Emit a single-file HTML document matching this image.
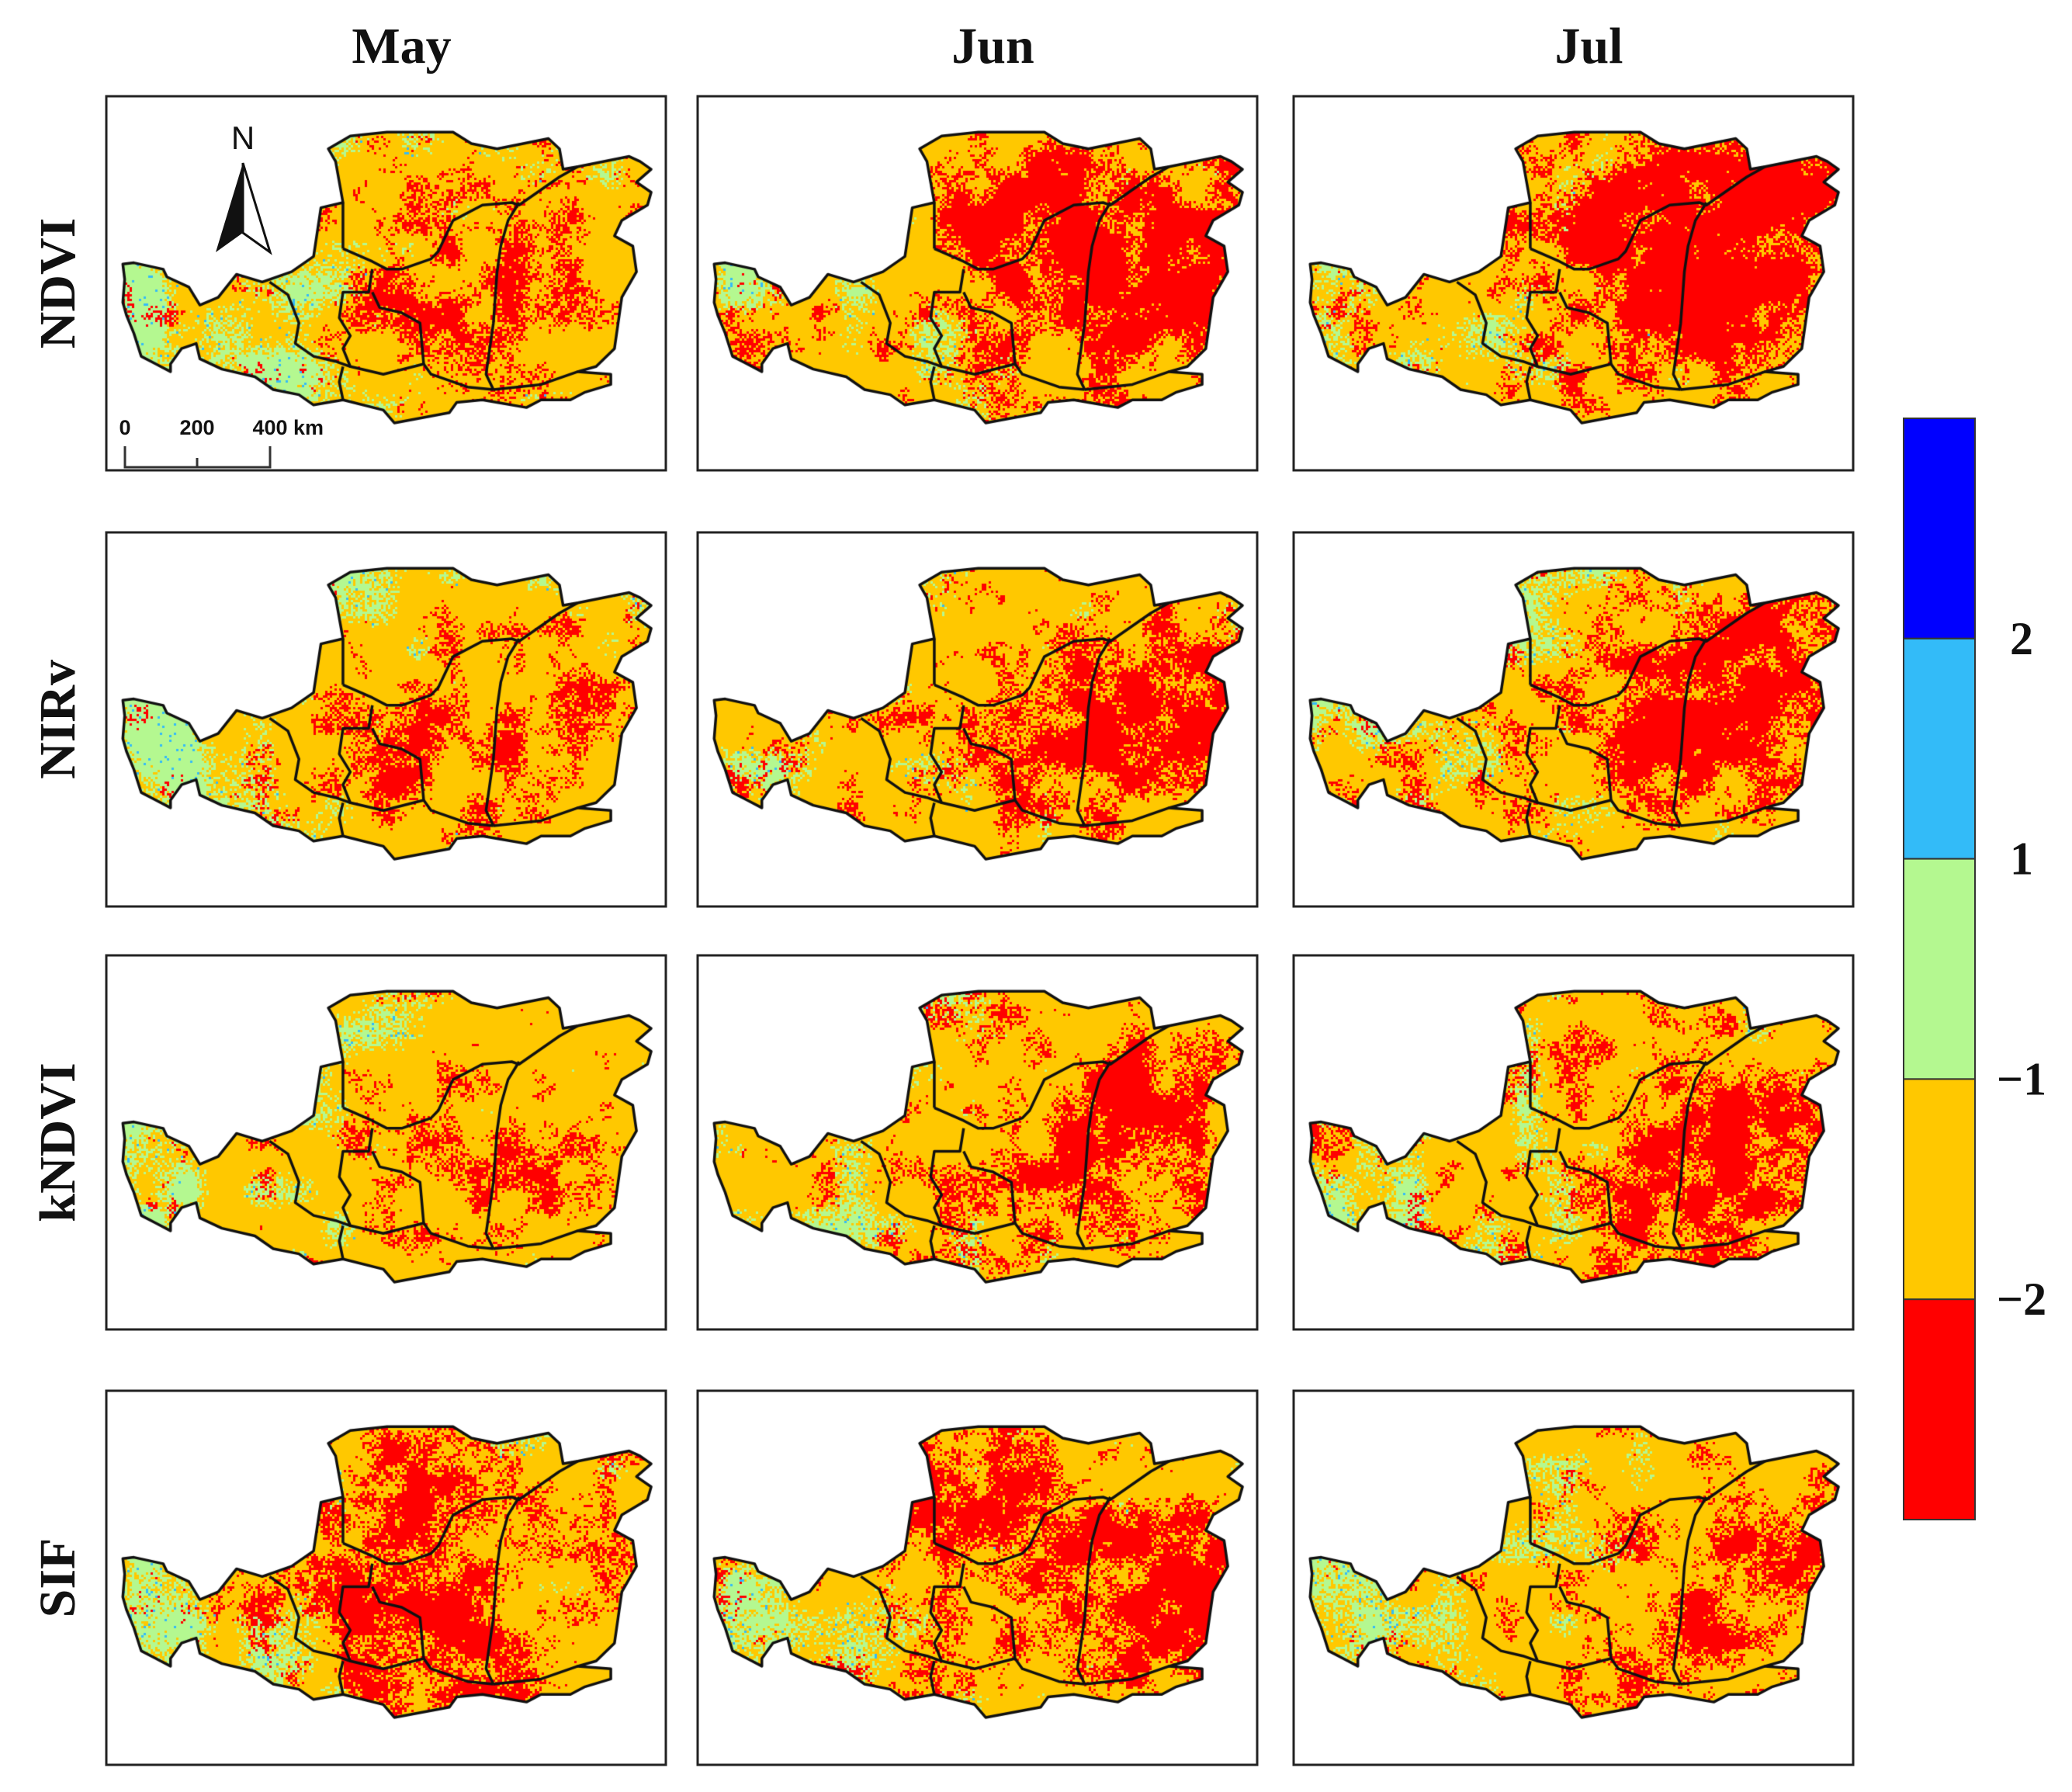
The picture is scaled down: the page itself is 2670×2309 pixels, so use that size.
<!DOCTYPE html>
<html><head><meta charset="utf-8"><style>
html,body{margin:0;padding:0;background:#fff;width:2670px;height:2309px;overflow:hidden;position:relative}
.t{position:absolute;font-family:"Liberation Serif",serif;font-weight:bold;color:#111}
canvas{position:absolute}
</style></head><body>
<div id="root"></div>
<svg id="ov" width="2670" height="2309" style="position:absolute;left:0;top:0"></svg>
<script>
// data
const months = ["May","Jun","Jul"];
const indices = ["NDVI","NIRv","kNDVI","SIF"];
// red-dominance (drought severity) per panel [row][col]
const redLevel = [[0.40,0.66,0.72],[0.38,0.60,0.64],[0.30,0.55,0.56],[0.60,0.62,0.52]];
// green (normal) share per panel
const greenLevel = [[0.60,0.35,0.38],[0.55,0.32,0.35],[0.58,0.30,0.35],[0.50,0.32,0.32]];
// drought hotspot centres per panel (fractions of panel width/height)
const hotspots = [
 [[[0.55,0.55],[0.78,0.5]],[[0.72,0.5],[0.85,0.45],[0.6,0.35]],[[0.72,0.5],[0.85,0.35],[0.65,0.3]]],
 [[[0.55,0.6],[0.8,0.5]],[[0.7,0.55],[0.85,0.45]],[[0.7,0.5],[0.85,0.35]]],
 [[[0.55,0.6],[0.8,0.55]],[[0.7,0.55],[0.85,0.4]],[[0.8,0.45],[0.7,0.65]]],
 [[[0.55,0.3],[0.45,0.5],[0.62,0.75]],[[0.5,0.3],[0.75,0.55],[0.85,0.5]],[[0.82,0.4],[0.7,0.7]]]
];
const cbLabels = ["2","1","\u22121","\u22122"];
const cbColors = ["#0000ff","#33bbf8","#b4f890","#ffc800","#ff0000"];

const colX=[137,899,1667], rowY=[124,686,1231,1792], PW=721, PH=482;
const outlineZ=[[60,670],[90,665],[170,690],[180,720],[240,760],[270,830],[320,800],[370,710],[440,740],[520,700],[580,640],[600,450],[660,430],[640,270],[620,220],[680,170],[780,155],[960,155],[1010,200],[1080,220],[1220,180],[1250,220],[1260,300],[1300,290],[1440,250],[1470,270],[1500,300],[1460,350],[1500,390],[1490,440],[1420,500],[1400,560],[1450,600],[1460,700],[1420,800],[1410,900],[1400,1000],[1350,1070],[1300,1090],[1390,1100],[1390,1140],[1320,1170],[1280,1200],[1200,1200],[1160,1230],[1080,1210],[1040,1200],[970,1210],[950,1250],[800,1290],[770,1240],[660,1200],[580,1220],[540,1180],[470,1160],[420,1110],[330,1080],[270,1040],[260,980],[220,1000],[190,1060],[190,1090],[150,1060],[110,1030],[90,940],[70,870],[60,820],[65,730]];
const bounds=[
[[660,610],[740,660],[780,690],[820,690],[900,650],[920,620],[960,500],[1040,440],[1120,430],[1140,440],[1250,330],[1300,290]],
[[1140,430],[1110,500],[1090,600],[1080,700],[1070,900],[1060,1000],[1050,1100],[1070,1160]],
[[1070,1160],[1200,1140],[1300,1090]],
[[740,690],[730,780],[660,780],[650,880],[680,950],[660,1000],[680,1070],[770,1100],[880,1060],[870,900],[820,860],[760,840],[740,780]],
[[460,740],[510,790],[540,900],[530,980],[580,1030],[640,1050],[680,1070]],
[[880,1060],[900,1100],[1000,1150],[1070,1160]],
[[660,610],[660,430]],[[660,1070],[650,1130],[660,1200]]];
const fx=z=>(z-15)/1525*PW, fy=z=>(z-15)/1460*PH;
const ov=document.getElementById('ov'), NS='http://www.w3.org/2000/svg';
function hash(i,j,k){let h=(i*374761393+j*668265263+k*1442695041)|0;h=Math.imul(h^(h>>>13),1274126177);return ((h^(h>>>16))>>>0)/4294967296;}
function vnoise(x,y,s,k){const gx=x/s,gy=y/s,i=Math.floor(gx),j=Math.floor(gy),a=gx-i,b=gy-j;
 const sa=a*a*(3-2*a),sb=b*b*(3-2*b);
 const v00=hash(i,j,k),v10=hash(i+1,j,k),v01=hash(i,j+1,k),v11=hash(i+1,j+1,k);
 return (v00*(1-sa)+v10*sa)*(1-sb)+(v01*(1-sa)+v11*sa)*sb;}
for(let r=0;r<4;r++)for(let c=0;c<3;c++){
 const x0=colX[c],y0=rowY[r];
 const cv=document.createElement('canvas');cv.width=PW;cv.height=PH;cv.style.left=x0+'px';cv.style.top=y0+'px';
 
 
 document.body.appendChild(cv);
 const g=cv.getContext('2d');
 g.beginPath();outlineZ.forEach((p,i)=>i?g.lineTo(fx(p[0]),fy(p[1])):g.moveTo(fx(p[0]),fy(p[1])));g.closePath();
 g.save();g.clip();
 const k=r*3+c+1, cs=3, rl=redLevel[r][c], gl=greenLevel[r][c], hs=hotspots[r][c];
 for(let i=0;i<PW/cs;i++)for(let j=0;j<PH/cs;j++){
  const x=i*cs,y=j*cs,u=x/PW,v=y/PH;
  const n=0.45*vnoise(x,y,40,k)+0.25*vnoise(x,y,14,k+50)+0.3*hash(i,j,k+99);
  let hot=0;hs.forEach(h=>{const dx=(u-h[0])/0.16,dy=(v-h[1])/0.2;hot+=Math.exp(-(dx*dx+dy*dy));});
  hot=Math.min(1,hot);
  const rs=n+rl*0.5*hot+rl*0.2;
  const west=Math.max(0,0.65-u)*1.5+Math.max(0,0.3-v)*0.8;
  const gsc=0.5*vnoise(x,y,50,k+200)+0.25*hash(j,i,k+7)+gl*west*0.6-hot*0.15;
  let col="#ffc800";
  if(rs>0.8)col="#ff0000";
  else if(gsc>0.62){col=(hash(j,i,k)<0.04?"#33bbf8":"#b4f890");}
  g.fillStyle=col;g.fillRect(x,y,cs,cs);
 }
 g.restore();
 g.lineWidth=3.5;g.strokeStyle="#111";g.lineJoin="round";
 g.beginPath();outlineZ.forEach((p,i)=>i?g.lineTo(fx(p[0]),fy(p[1])):g.moveTo(fx(p[0]),fy(p[1])));g.closePath();g.stroke();
 bounds.forEach(b=>{g.beginPath();b.forEach((p,i)=>i?g.lineTo(fx(p[0]),fy(p[1])):g.moveTo(fx(p[0]),fy(p[1])));g.stroke();});
 const fr=document.createElementNS(NS,'rect');
 fr.setAttribute('x',x0);fr.setAttribute('y',y0);fr.setAttribute('width',PW);fr.setAttribute('height',PH);
 fr.setAttribute('fill','none');fr.setAttribute('stroke','#222');fr.setAttribute('stroke-width','3');
 
 
 ov.appendChild(fr);
}
// titles
months.forEach((m,c)=>{const d=document.createElement('div');d.className='t';d.textContent=m;
 d.style.cssText='left:'+(colX[c]+PW/2-150+20)+'px;top:22px;width:300px;text-align:center;font-size:66px';
 
 
 document.body.appendChild(d);});
indices.forEach((n,r)=>{const t=document.createElementNS(NS,'text');
 t.setAttribute('x',0);t.setAttribute('y',0);t.setAttribute('transform','translate(96,'+(rowY[r]+PH/2)+') rotate(-90)');
 t.setAttribute('text-anchor','middle');t.setAttribute('font-family','Liberation Serif, serif');t.setAttribute('font-weight','bold');t.setAttribute('font-size','66');t.setAttribute('fill','#111');
 t.textContent=n;
 
 
 ov.appendChild(t);});
// colorbar
const cbTop=539,cbH=1419,cbX=2453,cbW=92;
cbColors.forEach((c,i)=>{const re=document.createElementNS(NS,'rect');
 re.setAttribute('x',cbX);re.setAttribute('y',cbTop+i*cbH/5);re.setAttribute('width',cbW);re.setAttribute('height',cbH/5);
 re.setAttribute('fill',c);re.setAttribute('stroke','#333');re.setAttribute('stroke-width','2');
 
 
 ov.appendChild(re);});
cbLabels.forEach((l,i)=>{const t=document.createElementNS(NS,'text');
 t.setAttribute('x',2605);t.setAttribute('y',cbTop+(i+1)*cbH/5+20);t.setAttribute('text-anchor','middle');
 t.setAttribute('font-family','Liberation Serif, serif');t.setAttribute('font-weight','bold');t.setAttribute('font-size','60');t.setAttribute('fill','#111');
 t.textContent=l;
 
 
 ov.appendChild(t);});
</script>
<svg width="2670" height="2309" style="position:absolute;left:0;top:0">
 <g>
  <text x="313" y="192" font-family="Liberation Sans, sans-serif" font-size="42" text-anchor="middle" fill="#111">N</text>
  <polygon points="313,210 278,325 313,300" fill="#111"/>
  <polygon points="313,210 348,325 313,300" fill="#fff" stroke="#111" stroke-width="3"/>
 </g>
 <g font-family="Liberation Sans, sans-serif" font-weight="bold" font-size="27" fill="#111">
  <text x="161" y="560" text-anchor="middle">0</text>
  <text x="254" y="560" text-anchor="middle">200</text>
  <text x="348" y="560" text-anchor="middle">400</text>
  <text x="378" y="560">km</text>
  <path d="M161,575 V602 H348 V575 M254,590 V602" stroke="#333" stroke-width="3" fill="none"/>
 </g>
</svg>
</body></html>
